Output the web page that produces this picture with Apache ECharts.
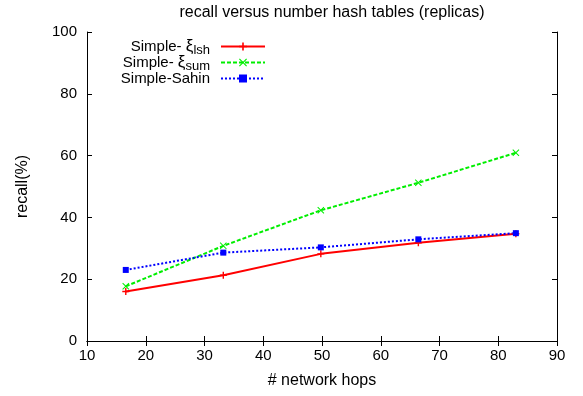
<!DOCTYPE html>
<html><head><meta charset="utf-8">
<script src="https://cdn.jsdelivr.net/npm/echarts@6/dist/echarts.min.js"></script>
<style>html,body{margin:0;padding:0;background:#fff}#c{width:583px;height:396px}</style>
</head><body><div id="c"></div>
<script>
const hops = [16.6, 33.2, 49.8, 66.4, 83.0];
const lshRecall = [16.0, 21.3, 28.2, 31.8, 34.7];
const sumRecall = [17.7, 30.8, 42.3, 51.2, 60.9];
const sahinRecall = [23.0, 28.6, 30.3, 32.9, 34.9];
const titleText = 'recall versus number hash tables (replicas)';
const xName = '# network hops';
const yName = 'recall(%)';

const F = 'Liberation Sans, Arial, sans-serif';
const plus = 'path://M4,0H6V4H10V6H6V10H4V6H0V4H4Z';
const cross = 'path://M1,0L5,4L9,0L10,1L6,5L10,9L9,10L5,6L1,10L0,9L4,5L0,1Z';
const pts = a => hops.map((x, i) => [x, a[i]]);
const rich = {
  t: {fontFamily: F, fontSize: 15, color: '#000'},
  x: {fontFamily: F, fontSize: 17, color: '#000'},
  s: {fontFamily: F, fontSize: 13, color: '#000', verticalAlign: 'bottom', padding: [7, 0, 0, 0]},
  g: {width: 6}
};
function leg(name, top) {
  return {
    data: [name], top: top, right: 317, orient: 'vertical', align: 'right',
    itemWidth: 44, itemHeight: 10, itemGap: 0, padding: 0,
    textStyle: {rich: rich, fontFamily: F, fontSize: 15, color: '#000'},
    formatter: n => (n === 'Simple-Sahin' ? '{t|Simple-Sahin}' :
      (n === 'lsh' ? '{t|Simple- }{x|ξ}{s|lsh}' : '{t|Simple- }{x|ξ}{s|sum}')) + '{g|}'
  };
}
const chart = echarts.init(document.getElementById('c'), null, {renderer: 'canvas'});
const axisCommon = {
  axisLine: {show: true, lineStyle: {color: '#000', width: 1}},
  axisTick: {inside: true, length: 5, lineStyle: {color: '#000'}},
  splitLine: {show: false}
};
chart.setOption({
  animation: false,
  backgroundColor: '#fff',
  title: {text: titleText, left: 327, top: 0, textAlign: 'center',
    textStyle: {fontFamily: F, fontSize: 16, fontWeight: 'normal', color: '#000'}},
  grid: {left: 87, right: 26, top: 32, bottom: 55, show: false},
  legend: [leg('lsh', 38), leg('sum', 54), leg('Simple-Sahin', 71)],
  xAxis: [
    Object.assign({}, axisCommon, {type: 'value', min: 10, max: 90, interval: 10, position: 'bottom',
      name: xName, nameLocation: 'middle', nameGap: 32,
      nameTextStyle: {fontFamily: F, fontSize: 16, color: '#000'},
      axisLabel: {fontFamily: F, fontSize: 15, color: '#000', margin: 7}}),
    Object.assign({}, axisCommon, {type: 'value', min: 10, max: 90, interval: 10, position: 'top',
      axisLabel: {show: false}})
  ],
  yAxis: [
    Object.assign({}, axisCommon, {type: 'value', min: 0, max: 100, interval: 20, position: 'left',
      name: yName, nameLocation: 'middle', nameGap: 56, nameRotate: 90,
      nameTextStyle: {fontFamily: F, fontSize: 16, color: '#000'},
      axisLabel: {fontFamily: F, fontSize: 15, color: '#000', margin: 10}}),
    Object.assign({}, axisCommon, {type: 'value', min: 0, max: 100, interval: 20, position: 'right',
      axisLabel: {show: false}})
  ],
  series: [
    {name: 'lsh', type: 'line', data: pts(lshRecall), symbol: plus, symbolSize: 7,
      itemStyle: {color: '#ff0000'}, lineStyle: {color: '#ff0000', width: 2, type: 'solid'}},
    {name: 'sum', type: 'line', data: pts(sumRecall), symbol: cross, symbolSize: 7,
      itemStyle: {color: '#00ee00'}, lineStyle: {color: '#00ee00', width: 2, type: [4, 2]}},
    {name: 'Simple-Sahin', type: 'line', data: pts(sahinRecall), symbol: 'rect', symbolSize: 6,
      itemStyle: {color: '#0000ff'}, lineStyle: {color: '#0000ff', width: 2, type: [2, 2]}}
  ]
});
</script></body></html>
